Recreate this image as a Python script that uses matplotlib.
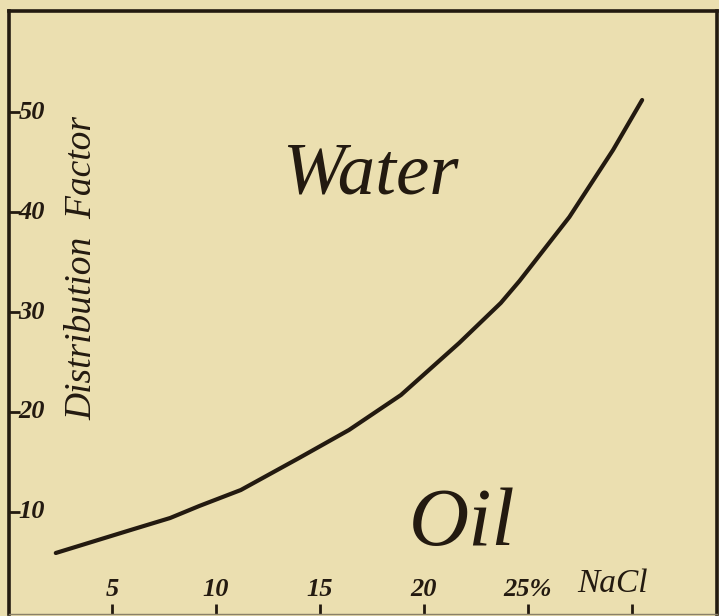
import matplotlib
matplotlib.use("Agg")
import matplotlib.pyplot as plt
import matplotlib.transforms as mtransforms

# Distribution factor of the solute between water and oil vs. salt concentration
nacl_pct = [2.3, 5.9, 7.8, 9.2, 11.2, 14.0, 16.4, 18.9, 21.7, 23.7, 24.6, 27.0, 29.1, 30.5]
dist_factor = [5.9, 8.2, 9.4, 10.6, 12.2, 15.4, 18.2, 21.7, 26.9, 30.9, 33.1, 39.5, 46.2, 51.2]

x_ticks = [5, 10, 15, 20, 25, 30]
x_tick_labels = ['5', '10', '15', '20', '25%', '']
y_ticks = [10, 20, 30, 40, 50]
y_tick_labels = ['10', '20', '30', '40', '50']

paper = '#ebdfb0'
ink = '#231a10'
script_font = 'Liberation Serif'

fig = plt.figure(figsize=(7.19, 6.16), dpi=100)
fig.patch.set_facecolor(paper)
ax = fig.add_axes([9 / 719, 2 / 616, 708 / 719, 603 / 616])
ax.set_facecolor(paper)

ax.plot(nacl_pct, dist_factor, color=ink, linewidth=3.0,
        solid_capstyle='round', solid_joinstyle='round')

ax.set_xlim(0.05, 34.1)
ax.set_ylim(-0.2, 60.1)

for side in ['left', 'top', 'right']:
    ax.spines[side].set_color(ink)
    ax.spines[side].set_linewidth(2.6)
ax.spines['bottom'].set_color('#8a8068')
ax.spines['bottom'].set_linewidth(1.0)

ax.set_xticks(x_ticks)
ax.set_yticks(y_ticks)
ax.set_xticklabels([])
ax.set_yticklabels([])
ax.tick_params(axis='x', direction='in', length=7, width=2, color=ink)
ax.tick_params(axis='y', direction='in', length=8, width=2, color=ink)

# numbers are written inside the frame
xlab_tr = mtransforms.blended_transform_factory(ax.transData, ax.transAxes)
for x, lab in zip(x_ticks, x_tick_labels):
    ax.text(x, 0.04, lab, transform=xlab_tr, ha='center', va='center',
            fontsize=19, style='italic', weight='bold', family=script_font, color=ink)
ax.text(27.4, 0.05, 'NaCl', transform=xlab_tr, ha='left', va='center',
        fontsize=24, style='italic', family=script_font, color=ink)

ylab_tr = mtransforms.blended_transform_factory(ax.transAxes, ax.transData)
for y, lab in zip(y_ticks, y_tick_labels):
    ax.text(0.013, y, lab, transform=ylab_tr, ha='left', va='center',
            fontsize=19, style='italic', weight='bold', family=script_font, color=ink)

ax.text(0.103, 0.574, 'Distribution  Factor', transform=ax.transAxes,
        rotation=90, ha='center', va='center', fontsize=27,
        style='italic', family=script_font, color=ink)

ax.text(0.51, 0.698, 'Water', transform=ax.transAxes, ha='center', va='baseline',
        fontsize=54, style='italic', family=script_font, color=ink)
ax.text(0.64, 0.114, 'Oil', transform=ax.transAxes, ha='center', va='baseline',
        fontsize=60, style='italic', family=script_font, color=ink)

fig.savefig('out.png', dpi=100, facecolor=paper)
